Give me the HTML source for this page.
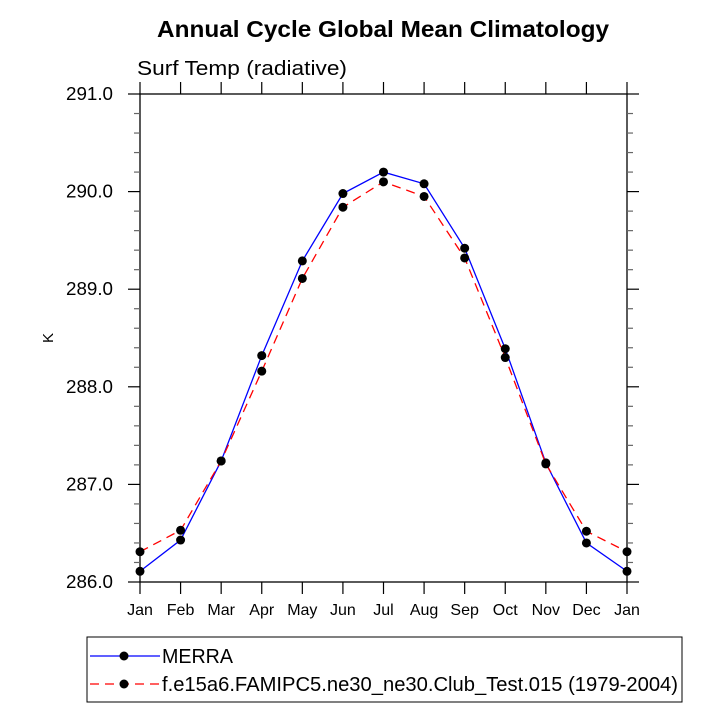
<!DOCTYPE html>
<html><head><meta charset="utf-8"><style>body{margin:0;background:#fff}svg{display:block;font-family:"Liberation Sans",sans-serif}</style></head>
<body>
<svg id="c" width="722" height="722">
<text x="157" y="37" font-size="23" font-weight="bold" textLength="452" lengthAdjust="spacingAndGlyphs">Annual Cycle Global Mean Climatology</text>
<text x="137" y="75" font-size="20" textLength="210" lengthAdjust="spacingAndGlyphs">Surf Temp (radiative)</text>
<text transform="translate(53,338) rotate(-90)" text-anchor="middle" font-size="15">K</text>
<g id="axes"></g><g id="series"></g>
<rect x="87" y="637" width="595" height="65" fill="none" stroke="#000" stroke-width="1"/>
<g><line x1="90" y1="656" x2="160" y2="656" stroke="#00f" stroke-width="1.3"/><circle cx="124" cy="656" r="4.5"/><text x="162" y="663" font-size="20" textLength="71" lengthAdjust="spacingAndGlyphs">MERRA</text></g>
<g><line x1="90" y1="684" x2="160" y2="684" stroke="#f00" stroke-width="1.3" stroke-dasharray="9,6"/><circle cx="124" cy="684" r="4.5"/><text x="162" y="691" font-size="20" textLength="516" lengthAdjust="spacingAndGlyphs">f.e15a6.FAMIPC5.ne30_ne30.Club_Test.015 (1979-2004)</text></g>
</svg>
<script>
const months=["Jan","Feb","Mar","Apr","May","Jun","Jul","Aug","Sep","Oct","Nov","Dec","Jan"];
const merra=[286.11,286.43,287.24,288.32,289.29,289.98,290.20,290.08,289.42,288.39,287.22,286.40,286.11];
const model=[286.31,286.53,287.24,288.16,289.11,289.84,290.10,289.95,289.32,288.30,287.21,286.52,286.31];
const yTicks=[286,287,288,289,290,291];
const yTickLabels=["286.0","287.0","288.0","289.0","290.0","291.0"];
const L=140,R=627,T=94,B=582,ymin=286,ymax=291;
const ns="http://www.w3.org/2000/svg";
const xs=i=>L+i*(R-L)/(months.length-1);
const ys=v=>B-(v-ymin)/(ymax-ymin)*(B-T);
function mk(t,a,p){const e=document.createElementNS(ns,t);for(const k in a)e.setAttribute(k,a[k]);p.appendChild(e);return e;}
const ax=document.getElementById('axes'),sg=document.getElementById('series');
const box=mk('rect',{x:L,y:T,width:R-L,height:B-T,fill:'none',stroke:'#000','stroke-width':1.3},ax);


months.forEach((m,i)=>{const x=xs(i);
 mk('line',{x1:x,y1:B,x2:x,y2:B+12,stroke:'#000','stroke-width':1.2},ax);
 mk('line',{x1:x,y1:T,x2:x,y2:T-12,stroke:'#000','stroke-width':1.2},ax);
 const t=mk('text',{x:x,y:615,'text-anchor':'middle','font-size':16},ax);t.textContent=m;
 
 });
for(let v=ymin;v<=ymax+1e-9;v+=0.2){const y=ys(v);const maj=Math.abs(v-Math.round(v))<1e-6;const len=maj?12:6;
 mk('line',{x1:L,y1:y,x2:L-len,y2:y,stroke:maj?'#000':'#666','stroke-width':1.2},ax);
 mk('line',{x1:R,y1:y,x2:R+len,y2:y,stroke:maj?'#000':'#666','stroke-width':1.2},ax);}
yTicks.forEach((v,i)=>{const t=mk('text',{x:113,y:ys(v)+6,'text-anchor':'end','font-size':18,textLength:47,lengthAdjust:'spacingAndGlyphs'},ax);t.textContent=yTickLabels[i];
 
 });
function series(d,col,dash,name){
 const p=mk('polyline',{points:d.map((v,i)=>xs(i)+','+ys(v)).join(' '),fill:'none',stroke:col,'stroke-width':1.3,'stroke-dasharray':dash},sg);
 
 
 d.forEach((v,i)=>{const c=mk('circle',{cx:xs(i),cy:ys(v),r:4.5,fill:'#000'},sg);
  
  });}
series(merra,'#00f','none','merra');
series(model,'#f00','9,6','model');
</script>
</body></html>
